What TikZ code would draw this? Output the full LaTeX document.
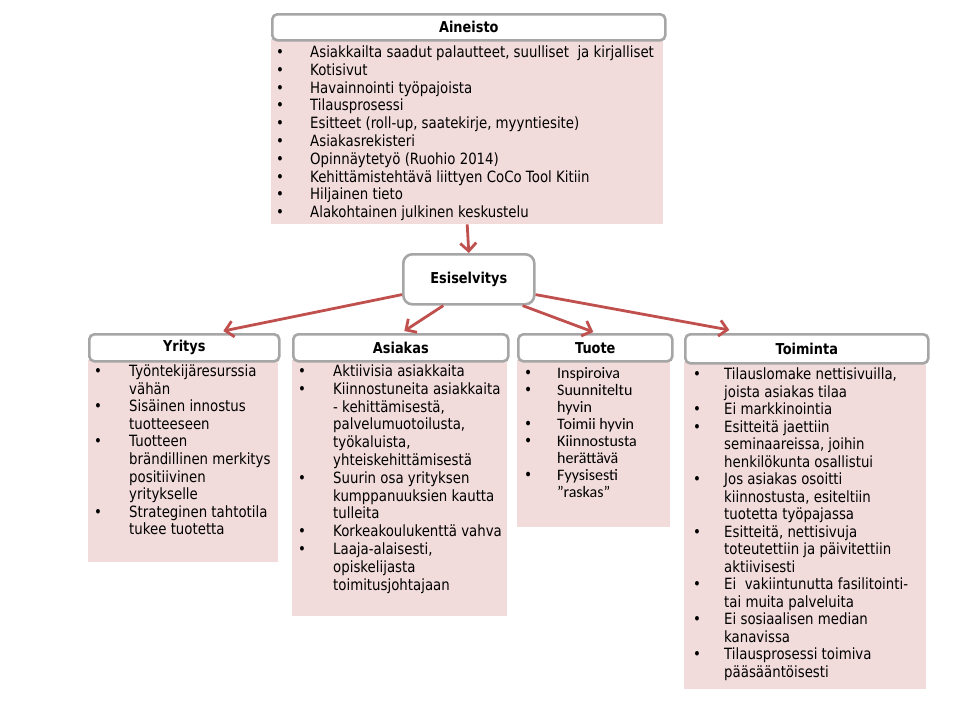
\documentclass[tikz,border=0pt]{standalone}
\usepackage{fontspec}
\setmainfont{DejaVu Sans}[FakeStretch=0.86]
\newfontfamily\calfont{Carlito}
\newfontfamily\djfont{DejaVu Sans}[FakeStretch=0.86]
\usetikzlibrary{arrows.meta,calc}
\definecolor{pinkbg}{HTML}{F2DCDB}
\definecolor{hdrline}{HTML}{A6A6A6}
\definecolor{arrowred}{HTML}{C0504D}
\newcommand\blist[2]{\begin{tabular}[t]{@{}p{#1}@{}l@{}}#2\end{tabular}}
\newcommand\bu{\textbullet}
\newcommand\dbu{{\djfont\textbullet}}
\tikzset{
  hdr/.style={draw=hdrline, line width=2.6pt, fill=white, rounded corners=5pt,
    inner sep=0pt, anchor=north west, font=\bfseries\fontsize{15}{17}\selectfont},
  esibox/.style={draw=hdrline, line width=2.6pt, fill=white, rounded corners=9pt,
    inner sep=0pt, anchor=north west, font=\bfseries\fontsize{15}{17}\selectfont},
  bodybox/.style={fill=pinkbg, draw=none, inner sep=0pt, anchor=north west},
  listtext/.style={anchor=base west, inner sep=0pt, align=left,
    font=\fontsize{15.5}{17.8}\selectfont},
  arr/.style={draw=arrowred, line width=2.8pt,
    -{Straight Barb[length=8pt,width=16pt]}},
}
\begin{document}
\begin{tikzpicture}[x=1pt,y=-1pt]
\useasboundingbox (0,0) rectangle (960,720);

% Aineisto
\node[bodybox, minimum width=392pt, minimum height=185pt] (ainb) at (271,39) {};
\node[hdr, minimum width=393pt, minimum height=26pt] (ain) at (271,13) {Aineisto};
\node[listtext] (ainl) at (276,57.5) {\blist{34pt}{%
\bu & Asiakkailta saadut palautteet, suulliset\ \ ja kirjalliset\\
\bu & Kotisivut\\
\bu & Havainnointi työpajoista\\
\bu & Tilausprosessi\\
\bu & Esitteet (roll-up, saatekirje, myyntiesite)\\
\bu & Asiakasrekisteri\\
\bu & Opinnäytetyö (Ruohio 2014)\\
\bu & Kehittämistehtävä liittyen CoCo Tool Kitiin\\
\bu & Hiljainen tieto\\
\bu & Alakohtainen julkinen keskustelu\\}};

% Esiselvitys
\node[esibox, minimum width=131pt, minimum height=50pt] (esi) at (402,253) {Esiselvitys};

% Yritys
\node[bodybox, minimum width=190pt, minimum height=202pt] (yrib) at (88,360) {};
\node[hdr, minimum width=190pt, minimum height=27pt] (yri) at (88,333) {Yritys};
\node[listtext, font=\fontsize{15.5}{17.6}\selectfont] (yril) at (94,376.5) {\blist{35pt}{%
\bu & Työntekijäresurssia\\
    & vähän\\
\bu & Sisäinen innostus\\
    & tuotteeseen\\
\bu & Tuotteen\\
    & brändillinen\ merkitys\\
    & positiivinen\\
    & yritykselle\\
\bu & Strateginen tahtotila\\
    & tukee tuotetta\\}};

% Asiakas
\node[bodybox, minimum width=215pt, minimum height=256pt] (asib) at (292,360) {};
\node[hdr, minimum width=215pt, minimum height=27pt] (asi) at (292,333) {Asiakas};
\node[listtext, font=\fontsize{15.5}{17.8}\selectfont] (asil) at (298,376.5) {\blist{35pt}{%
\bu & Aktiivisia asiakkaita\\
\bu & Kiinnostuneita asiakkaita\\
    & - kehittämisestä,\\
    & palvelumuotoilusta,\\
    & työkaluista,\\
    & yhteiskehittämisestä\\
\bu & Suurin osa yrityksen\\
    & kumppanuuksien kautta\\
    & tulleita\\
\bu & Korkeakoulukenttä vahva\\
\bu & Laaja-alaisesti,\\
    & opiskelijasta\\
    & toimitusjohtajaan\\}};

% Tuote
\node[bodybox, minimum width=153pt, minimum height=167pt] (tuob) at (517,360) {};
\node[hdr, minimum width=154pt, minimum height=27pt] (tuo) at (517,333) {Tuote};
\node[listtext, font=\calfont\fontsize{16}{17.1}\selectfont] (tuol) at (524,378) {\blist{33pt}{%
\dbu & Inspiroiva\\
\dbu & Suunniteltu\\
     & hyvin\\
\dbu & Toimii hyvin\\
\dbu & Kiinnostusta\\
     & herättävä\\
\dbu & Fyysisesti\\
     & ”raskas”\\}};

% Toiminta
\node[bodybox, minimum width=242pt, minimum height=327pt] (toib) at (684,362) {};
\node[hdr, minimum width=243pt, minimum height=29pt] (toi) at (684,333) {Toiminta};
\node[listtext, font=\fontsize{15.5}{17.53}\selectfont] (toil) at (693,379.5) {\blist{31pt}{%
\bu & Tilauslomake nettisivuilla,\\
    & joista asiakas tilaa\\
\bu & Ei markkinointia\\
\bu & Esitteitä jaettiin\\
    & seminaareissa, joihin\\
    & henkilökunta osallistui\\
\bu & Jos asiakas osoitti\\
    & kiinnostusta, esiteltiin\\
    & tuotetta työpajassa\\
\bu & Esitteitä, nettisivuja\\
    & toteutettiin ja päivitettiin\\
    & aktiivisesti\\
\bu & Ei\ \ vakiintunutta fasilitointi-\\
    & tai muita palveluita\\
\bu & Ei sosiaalisen\ median\\
    & kanavissa\\
\bu & Tilausprosessi\ toimiva\\
    & pääsääntöisesti\\}};

% Arrows
\draw[arr] (ainb.south) -- (esi.north);
\draw[arr] ($(esi.south west)+(0,-11)$) -- ($(yri.north)+(39,-2)$);
\draw[arr] ($(esi.south)+(-25.5,0)$) -- ($(asi.north)+(3.5,-2)$);
\draw[arr] ($(esi.south east)+(-13,0)$) -- ($(tuo.north)+(-2,-1)$);
\draw[arr] ($(esi.south east)+(0,-11)$) -- ($(toi.north)+(-77.5,-3)$);
\end{tikzpicture}
\end{document}
